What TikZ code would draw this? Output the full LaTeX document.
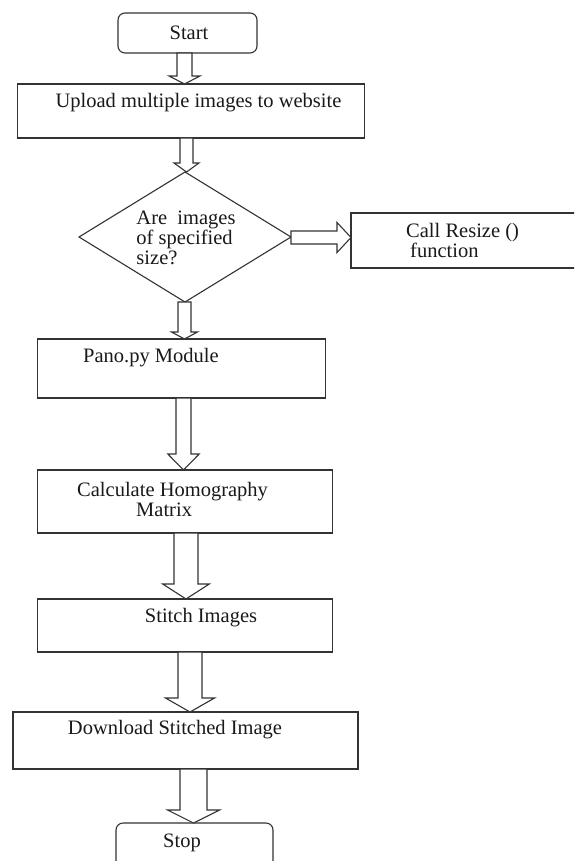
\documentclass[tikz,border=0pt]{standalone}
\usepackage{fontspec}
\setmainfont{Liberation Serif}
\usetikzlibrary{shapes.geometric,calc}
\tikzset{
  box/.style={draw=black!80, line width=1.1pt, rectangle, inner sep=0pt, outer sep=0pt},
  rbox/.style={box, rounded corners=7pt},
  decision/.style={draw=black!80, line width=1.1pt, diamond, inner sep=0pt, outer sep=0pt},
  lbl/.style={inner sep=0pt, font=\fontsize{20.5}{20}\selectfont, text=black!90},
  blk/.style={draw=black!80, line width=1.1pt, fill=white, line join=miter},
}
% #1 from anchor, #2 to anchor, #3 x centre, #4 shaft half width, #5 head half width, #6 head length
\newcommand\myblockarrow[6]{%
  \coordinate (bx) at (#3,0);
  \draw[blk] ($(bx|-#1)+(-#4,0)$) -- ($(bx|-#2)+(-#4,-#6)$) -- ($(bx|-#2)+(-#5,-#6)$)
    -- (bx|-#2) -- ($(bx|-#2)+(#5,-#6)$) -- ($(bx|-#2)+(#4,-#6)$) -- ($(bx|-#1)+(#4,0)$) -- cycle;
}
\begin{document}
\begin{tikzpicture}[x=1pt,y=-1pt]
\useasboundingbox (0,0) rectangle (574,861);
\fill[white] (0,0) rectangle (574,861);
\clip (0,0) rectangle (574,861);

% shapes
\node[rbox, minimum width=139pt, minimum height=40pt] (start) at (187.5,33) {};
\node[box, minimum width=347pt, minimum height=54pt] (upload) at (191.3,111) {};
\node[decision, minimum width=212pt, minimum height=130pt] (dia) at (185,237) {};
\node[box, minimum width=249pt, minimum height=55pt] (call) at (475.5,240.5) {};
\node[box, minimum width=288pt, minimum height=59pt] (pano) at (181.8,368.5) {};
\node[box, minimum width=295pt, minimum height=63pt] (calc) at (185.3,501.5) {};
\node[box, minimum width=295pt, minimum height=53pt] (stitch) at (185.3,625.5) {};
\node[box, minimum width=345pt, minimum height=57pt] (down) at (185.5,740.5) {};
\node[rbox, minimum width=157pt, minimum height=57pt] (stop) at (194.5,851.5) {};

% texts
\node[lbl] (tstart) at (189,33) {Start};
\node[lbl] (tup) at (198.5,103) {Upload multiple images to website};
\node[lbl, align=left] (tdia) at (186,238) {Are\ \ images\\of specified\\size?};
\node[lbl, align=left, anchor=west] (tcall) at (406,240) {Call Resize ()\\\hspace{4pt}function};
\node[lbl] (tpano) at (151,358) {Pano.py Module};
\node[lbl, align=left, anchor=west] (tcalc) at (77,499) {Calculate Homography\\\hspace{59pt}Matrix};
\node[lbl] (tstitch) at (201,618) {Stitch Images};
\node[lbl] (tdown) at (175,730) {Download Stitched Image};
\node[lbl] (tstop) at (182,843) {Stop};

% block arrows
\myblockarrow{start.south}{upload.north}{184.5}{7.5}{15.5}{8}
\myblockarrow{upload.south}{dia.north}{186.5}{6.5}{12.5}{9}
\myblockarrow{dia.south}{pano.north}{184.5}{6.5}{13}{7}
\myblockarrow{pano.south}{calc.north}{183.5}{7.5}{15.7}{16}
\myblockarrow{calc.south}{stitch.north}{186}{12}{23.3}{15}
\myblockarrow{stitch.south}{down.north}{190}{12}{24.5}{14}
\myblockarrow{down.south}{stop.north}{193.5}{13.5}{26}{13}

\coordinate (hy) at (0,237.5);
\draw[blk] ($(hy-|dia.east)+(0,-6.5)$) -- ($(hy-|call.west)+(-14,-6.5)$) -- ($(hy-|call.west)+(-14,-15)$)
  -- (hy-|call.west) -- ($(hy-|call.west)+(-14,15)$) -- ($(hy-|call.west)+(-14,6.5)$)
  -- ($(hy-|dia.east)+(0,6.5)$) -- cycle;
\end{tikzpicture}
\end{document}
